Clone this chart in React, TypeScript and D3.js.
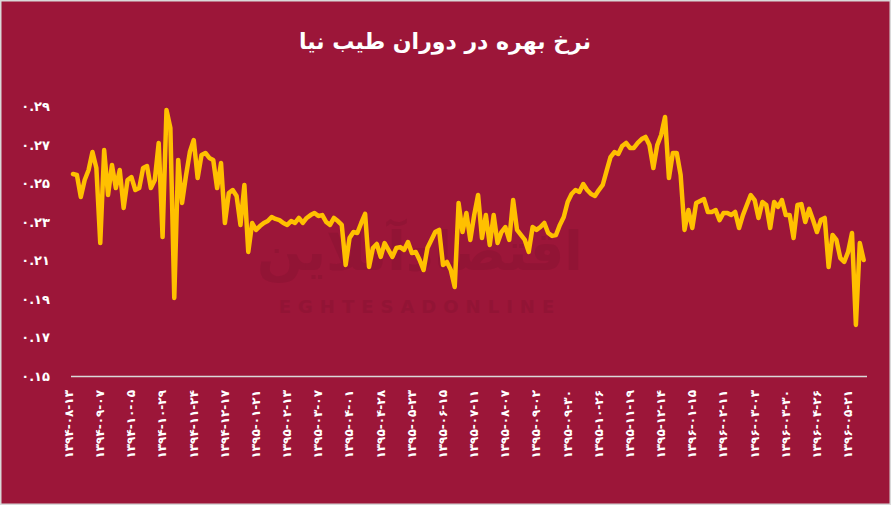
import React, { useEffect, useRef } from "react";
import * as d3 from "d3";

const TITLE = "نرخ بهره در دوران طیب نیا";

const rateValues: number[] = [
  0.2550, 0.2545, 0.2431, 0.2519, 0.2571, 0.2664, 0.2581, 0.2192, 0.2674, 0.2441,
  0.2597, 0.2477, 0.2571, 0.2374, 0.2519, 0.2534, 0.2467, 0.2477, 0.2581, 0.2591,
  0.2477, 0.2519, 0.2711, 0.2223, 0.2882, 0.2789, 0.1907, 0.2623, 0.2400, 0.2540,
  0.2664, 0.2726, 0.2529, 0.2649, 0.2659, 0.2633, 0.2623, 0.2477, 0.2607, 0.2296,
  0.2451, 0.2467, 0.2436, 0.2286, 0.2493, 0.2146, 0.2296, 0.2260, 0.2280, 0.2296,
  0.2306, 0.2327, 0.2317, 0.2311, 0.2296, 0.2286, 0.2306, 0.2296, 0.2322, 0.2296,
  0.2322, 0.2337, 0.2348, 0.2332, 0.2337, 0.2301, 0.2286, 0.2322, 0.2306, 0.2286,
  0.2078, 0.2218, 0.2249, 0.2244, 0.2296, 0.2343, 0.2068, 0.2166, 0.2187, 0.2120,
  0.2192, 0.2156, 0.2120, 0.2166, 0.2171, 0.2156, 0.2197, 0.2140, 0.2146, 0.2104,
  0.2052, 0.2166, 0.2208, 0.2249, 0.2260, 0.2078, 0.2094, 0.2052, 0.1964, 0.2400,
  0.2249, 0.2348, 0.2208, 0.2337, 0.2441, 0.2218, 0.2337, 0.2182, 0.2337, 0.2192,
  0.2249, 0.2275, 0.2208, 0.2415, 0.2260, 0.2234, 0.2208, 0.2146, 0.2275, 0.2260,
  0.2275, 0.2296, 0.2244, 0.2229, 0.2234, 0.2286, 0.2327, 0.2405, 0.2446, 0.2467,
  0.2457, 0.2498, 0.2467, 0.2446, 0.2436, 0.2467, 0.2493, 0.2566, 0.2638, 0.2664,
  0.2654, 0.2695, 0.2711, 0.2685, 0.2685, 0.2711, 0.2731, 0.2742, 0.2700, 0.2581,
  0.2700, 0.2752, 0.2846, 0.2529, 0.2659, 0.2659, 0.2545, 0.2260, 0.2363, 0.2270,
  0.2400, 0.2410, 0.2420, 0.2353, 0.2353, 0.2363, 0.2311, 0.2348, 0.2348, 0.2337,
  0.2353, 0.2270, 0.2337, 0.2389, 0.2441, 0.2415, 0.2322, 0.2405, 0.2389, 0.2270,
  0.2405, 0.2379, 0.2415, 0.2337, 0.2337, 0.2218, 0.2389, 0.2394, 0.2301, 0.2369,
  0.2311, 0.2249, 0.2311, 0.2322, 0.2068, 0.2234, 0.2208, 0.2114, 0.2094, 0.2146,
  0.2244, 0.1767, 0.2192, 0.2104,
];

const dateLabels: string[] = [
  "۱۳۹۴-۰۸-۱۳", "۱۳۹۴-۰۹-۰۷", "۱۳۹۴-۱۰-۰۵", "۱۳۹۴-۱۰-۲۹", "۱۳۹۴-۱۱-۲۴",
  "۱۳۹۴-۱۲-۱۷", "۱۳۹۵-۰۱-۲۱", "۱۳۹۵-۰۲-۱۳", "۱۳۹۵-۰۳-۰۷", "۱۳۹۵-۰۴-۰۱",
  "۱۳۹۵-۰۴-۲۸", "۱۳۹۵-۰۵-۲۳", "۱۳۹۵-۰۶-۱۵", "۱۳۹۵-۰۷-۱۱", "۱۳۹۵-۰۸-۰۷",
  "۱۳۹۵-۰۹-۰۲", "۱۳۹۵-۰۹-۳۰", "۱۳۹۵-۱۰-۲۶", "۱۳۹۵-۱۱-۱۹", "۱۳۹۵-۱۲-۱۴",
  "۱۳۹۶-۰۱-۱۵", "۱۳۹۶-۰۲-۱۱", "۱۳۹۶-۰۳-۰۳", "۱۳۹۶-۰۳-۳۰", "۱۳۹۶-۰۴-۲۶",
  "۱۳۹۶-۰۵-۲۱",
];
const LABEL_EVERY = 8;

const yTicks: number[] = [0.15, 0.17, 0.19, 0.21, 0.23, 0.25, 0.27, 0.29];

const W = 891;
const H = 505;
const BG = "#9c1639";
const LINE = "#ffc000";
const FONT = "'DejaVu Sans', sans-serif";

const toFa = (s: string) => s.replace(/\d/g, (d) => "۰۱۲۳۴۵۶۷۸۹"[+d]);

export default function App() {
  const ref = useRef<SVGSVGElement | null>(null);

  useEffect(() => {
    document.body.style.margin = "0";
    const svg = d3.select(ref.current);
    svg.selectAll("*").remove();

    svg.append("rect").attr("x", 0).attr("y", 0).attr("width", W).attr("height", H).attr("fill", BG);
    svg.append("rect").attr("x", 0.75).attr("y", 0.75).attr("width", W - 1.5).attr("height", H - 1.5)
      .attr("fill", "none").attr("stroke", "#d9d9d9").attr("stroke-width", 1.5);

    // watermark
    const wm = svg.append("g").attr("fill", "#8c1434").attr("opacity", 0.6);
    wm.append("text").attr("x", 420).attr("y", 270).attr("text-anchor", "middle")
      .attr("font-family", FONT).attr("font-weight", "bold").attr("font-size", 54)
      .attr("direction", "rtl").text("اقتصادآنلاین");
    wm.append("text").attr("x", 420).attr("y", 313).attr("text-anchor", "middle")
      .attr("font-family", FONT).attr("font-weight", "bold").attr("font-size", 18)
      .attr("letter-spacing", 7).text("EGHTESADONLINE");

    const x = d3.scaleLinear().domain([0, rateValues.length - 1])
      .range([73, 73 + (rateValues.length - 1) * 3.895]);
    const y = d3.scaleLinear().domain([0.15, 0.29]).range([376.5, 106.5]);

    // title
    svg.append("text").attr("x", 445).attr("y", 49).attr("text-anchor", "middle")
      .attr("fill", "#ffffff").attr("font-family", FONT).attr("font-weight", "bold")
      .attr("font-size", 22).attr("direction", "rtl").text(TITLE);

    // y labels
    svg.append("g").selectAll("text").data(yTicks).join("text")
      .attr("x", 50).attr("y", (d) => y(d)).attr("text-anchor", "end")
      .attr("dominant-baseline", "central").attr("fill", "#ffffff")
      .attr("font-family", FONT).attr("font-weight", "bold").attr("font-size", 13)
      .text((d) => toFa(d.toFixed(2)));

    // axis line
    svg.append("line").attr("x1", 71).attr("x2", 867).attr("y1", y(0.15)).attr("y2", y(0.15))
      .attr("stroke", "#d9d9d9").attr("stroke-width", 1.5);

    // x labels
    svg.append("g").selectAll("text").data(dateLabels).join("text")
      .attr("transform", (_d, i) => `translate(${x(i * LABEL_EVERY) - 4},390) rotate(-90)`)
      .attr("text-anchor", "end").attr("dominant-baseline", "central")
      .attr("direction", "ltr").attr("fill", "#ffffff")
      .attr("font-family", FONT).attr("font-weight", "bold").attr("font-size", 12)
      .text((d) => d);

    // line
    const line = d3.line<number>().x((_d, i) => x(i)).y((d) => y(d));
    svg.append("path").datum(rateValues).attr("d", line).attr("fill", "none")
      .attr("stroke", LINE).attr("stroke-width", 4.5).attr("stroke-linejoin", "round")
      .attr("stroke-linecap", "round");
  }, []);

  return (
    <div style={{ width: W, height: H }}>
      <svg ref={ref} width={W} height={H} style={{ display: "block" }} />
    </div>
  );
}
